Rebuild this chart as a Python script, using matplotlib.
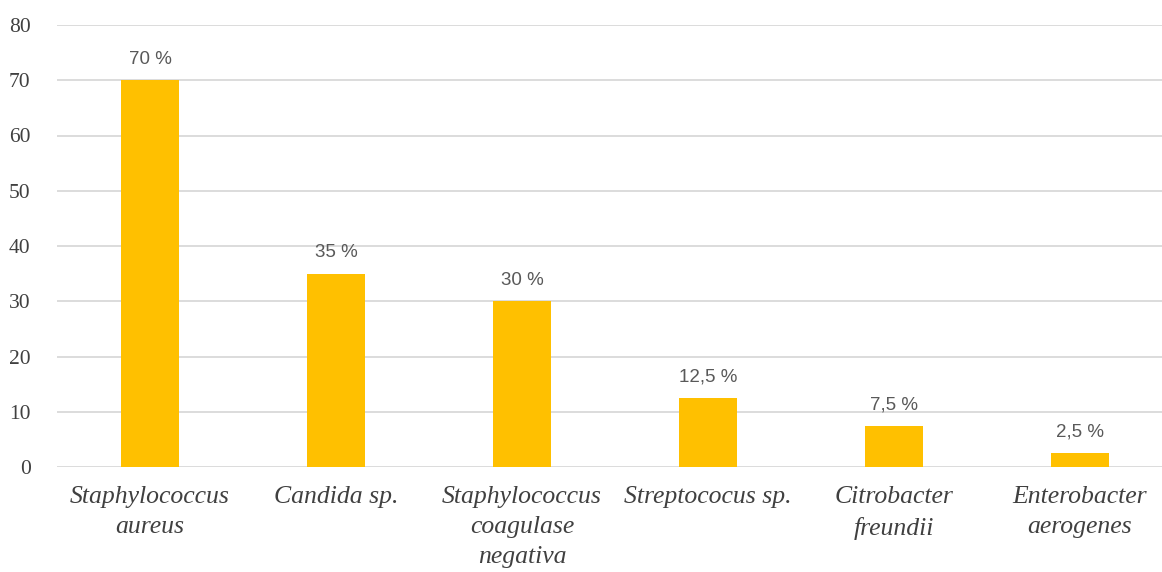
import matplotlib
matplotlib.use("Agg")
import matplotlib.pyplot as plt

categories = [
    "Staphylococcus\naureus",
    "Candida sp.",
    "Staphylococcus\ncoagulase\nnegativa",
    "Streptococus sp.",
    "Citrobacter\nfreundii",
    "Enterobacter\naerogenes",
]
values = [70, 35, 30, 12.5, 7.5, 2.5]
value_labels = ["70 %", "35 %", "30 %", "12,5 %", "7,5 %", "2,5 %"]
y_ticks = [0, 10, 20, 30, 40, 50, 60, 70, 80]

bar_color = "#FFC000"
grid_color = "#D9D9D9"
text_color = "#404040"

fig = plt.figure(figsize=(11.62, 5.72), dpi=100)
ax = fig.add_axes([57 / 1162, 105 / 572, 1116 / 1162, 442 / 572])

x = range(len(categories))
ax.bar(x, values, width=0.31, color=bar_color, zorder=3)

for xi, v, lab in zip(x, values, value_labels):
    ax.annotate(lab, (xi, v), xytext=(0, 9), textcoords="offset points",
                ha="center", va="bottom", fontsize=13.5, color="#595959",
                family="Liberation Sans")

ax.set_xlim(-0.5, len(categories) - 0.5)
ax.set_ylim(0, 80)
ax.set_yticks(y_ticks)
ax.set_yticklabels([str(t) for t in y_ticks], family="Liberation Serif",
                   fontsize=15.5, color=text_color)
ax.set_xticks(list(x))
ax.set_xticklabels(categories, family="Liberation Serif", style="italic",
                   fontsize=18.5, color=text_color, linespacing=1.45)
ax.tick_params(axis="both", length=0)
ax.tick_params(axis="x", pad=14)
ax.tick_params(axis="y", pad=19)

ax.yaxis.grid(True, color=grid_color, linewidth=1.3, zorder=0)
ax.set_axisbelow(True)
for s in ax.spines.values():
    s.set_visible(False)

fig.savefig("out.png", dpi=100, facecolor="white")
